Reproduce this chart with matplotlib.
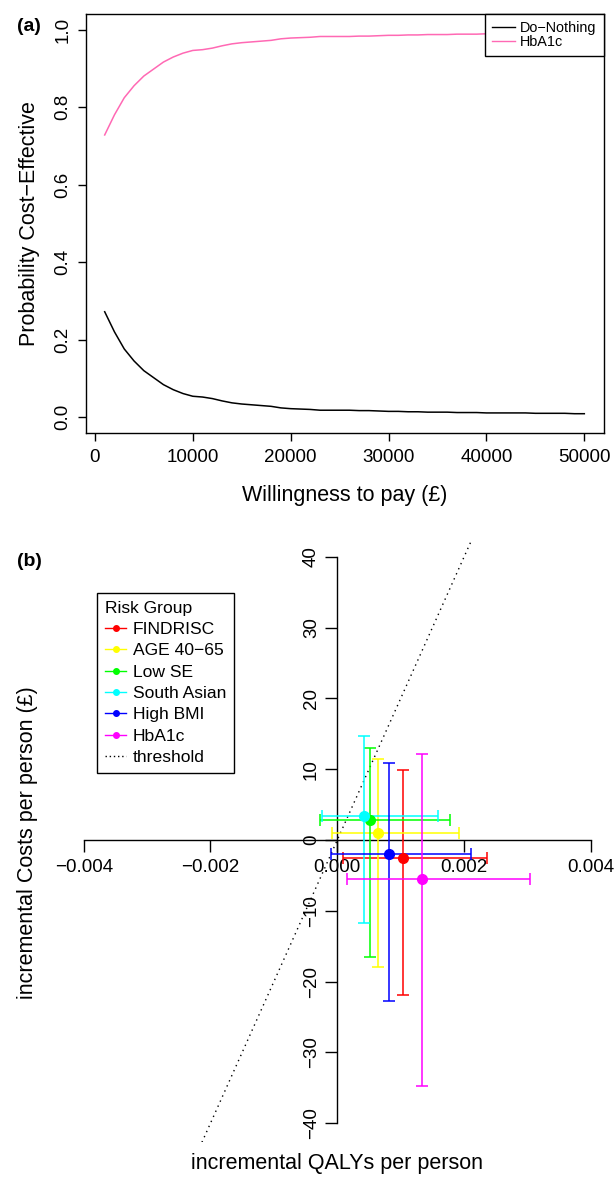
import matplotlib
matplotlib.use('Agg')
import matplotlib.pyplot as plt
from matplotlib.lines import Line2D
import numpy as np

plt.rcParams['font.family'] = ['Liberation Sans', 'DejaVu Sans']

# ---------------- data: panel (a) CEAC ----------------
wtp = [1000, 2000, 3000, 4000, 5000, 6000, 7000, 8000, 9000, 10000,
       11000, 12000, 13000, 14000, 15000, 16000, 17000, 18000, 19000, 20000,
       21000, 22000, 23000, 24000, 25000, 26000, 27000, 28000, 29000, 30000,
       31000, 32000, 33000, 34000, 35000, 36000, 37000, 38000, 39000, 40000,
       41000, 42000, 43000, 44000, 45000, 46000, 47000, 48000, 49000, 50000]
prob_do_nothing = [0.272, 0.220, 0.176, 0.145, 0.120, 0.102, 0.084, 0.071, 0.061, 0.054,
                   0.052, 0.048, 0.042, 0.037, 0.034, 0.032, 0.030, 0.028, 0.024, 0.022,
                   0.021, 0.020, 0.018, 0.018, 0.018, 0.018, 0.017, 0.017, 0.016, 0.015,
                   0.015, 0.014, 0.014, 0.013, 0.013, 0.013, 0.012, 0.012, 0.012, 0.011,
                   0.011, 0.011, 0.011, 0.011, 0.010, 0.010, 0.010, 0.010, 0.009, 0.009]
prob_hba1c = [0.728, 0.780, 0.824, 0.855, 0.880, 0.898, 0.916, 0.929, 0.939, 0.946,
              0.948, 0.952, 0.958, 0.963, 0.966, 0.968, 0.970, 0.972, 0.976, 0.978,
              0.979, 0.980, 0.982, 0.982, 0.982, 0.982, 0.983, 0.983, 0.984, 0.985,
              0.985, 0.986, 0.986, 0.987, 0.987, 0.987, 0.988, 0.988, 0.988, 0.989,
              0.989, 0.989, 0.989, 0.989, 0.990, 0.990, 0.990, 0.990, 0.991, 0.991]
a_xticks = [0, 10000, 20000, 30000, 40000, 50000]
a_xticklabels = ['0', '10000', '20000', '30000', '40000', '50000']
a_yticks = [0.0, 0.2, 0.4, 0.6, 0.8, 1.0]
a_yticklabels = ['0.0', '0.2', '0.4', '0.6', '0.8', '1.0']

# ---------------- data: panel (b) CE plane ----------------
groups = ['FINDRISC', 'AGE 40\u221265', 'Low SE', 'South Asian', 'High BMI', 'HbA1c']
group_colors = ['#FF0000', '#FFFF00', '#00FF00', '#00FFFF', '#0000FF', '#FF00FF']
qaly_mean = [0.001036, 0.000647, 0.000516, 0.000426, 0.000811, 0.001336]
qaly_low = [0.000090, -0.000088, -0.000268, -0.000241, -0.000100, 0.000148]
qaly_high = [0.002366, 0.001915, 0.001778, 0.001593, 0.002109, 0.003044]
cost_mean = [-2.58, 1.03, 2.78, 3.35, -1.98, -5.55]
cost_low = [-21.85, -17.94, -16.48, -11.72, -22.70, -34.75]
cost_high = [9.89, 11.44, 12.95, 14.69, 10.83, 12.15]
threshold_wtp = 20000
b_xticks = [-0.004, -0.002, 0.0, 0.002, 0.004]
b_xticklabels = ['\u22120.004', '\u22120.002', '0.000', '0.002', '0.004']
b_yticks = [-40, -30, -20, -10, 0, 10, 20, 30, 40]
b_yticklabels = ['\u221240', '\u221230', '\u221220', '\u221210', '0', '10', '20', '30', '40']

W, H = 615, 1177
fig = plt.figure(figsize=(W / 100, H / 100), dpi=100)


def fr(x0, y0, x1, y1):
    return [x0 / W, 1 - y1 / H, (x1 - x0) / W, (y1 - y0) / H]


TICK_FS = 13.5
LAB_FS = 15.5

# ---------------- panel (a) ----------------
ax1 = fig.add_axes(fr(85.5, 14.0, 603.5, 432.7))
ax1.plot(wtp, prob_do_nothing, color='black', lw=1.1)
ax1.plot(wtp, prob_hba1c, color='#FF69B4', lw=1.1)
ax1.set_xlim(-960, 51960)
ax1.set_ylim(-0.04, 1.04)
ax1.set_xticks(a_xticks)
ax1.set_xticklabels(a_xticklabels)
ax1.set_yticks(a_yticks)
ax1.set_yticklabels(a_yticklabels, rotation=90, va='center')
ax1.tick_params(direction='out', length=6, width=1, labelsize=TICK_FS, colors='black')
ax1.tick_params(axis='x', pad=6)
ax1.tick_params(axis='y', pad=4)
for s in ax1.spines.values():
    s.set_linewidth(1.0)
ax1.set_xlabel('Willingness to pay (\u00a3)', fontsize=LAB_FS, va='center')
ax1.xaxis.set_label_coords(0.5, (432.7 - 495) / 418.7)
ax1.set_ylabel('Probability Cost\u2212Effective', fontsize=LAB_FS, va='center')
ax1.yaxis.set_label_coords((29.5 - 85.5) / 518.0, 0.5)
h_a = [Line2D([], [], color='black', lw=1.0), Line2D([], [], color='#FF69B4', lw=1.0)]
leg_a = ax1.legend(h_a, ['Do\u2212Nothing', 'HbA1c'], loc='upper right',
                   bbox_to_anchor=(1, 1), borderaxespad=0, fontsize=10.4,
                   handlelength=1.55, handletextpad=0.35, labelspacing=0.0,
                   borderpad=0.5, fancybox=False, framealpha=1, edgecolor='black')
leg_a.get_frame().set_linewidth(1.0)

fig.text(28.5 / W, 1 - 26.7 / H, '(a)', fontsize=14, fontweight='bold',
         ha='center', va='center')

# ---------------- panel (b) ----------------
ax2 = fig.add_axes(fr(63.4, 542.3, 611.2, 1142.3))
ax2.set_xlim(-0.00432, 0.00432)
ax2.set_ylim(-42.7, 42.05)
ax2.axline((0, 0), slope=threshold_wtp, color='black', lw=1.0,
           linestyle=(0, (1, 3)), zorder=1)
for i, g in enumerate(groups):
    q = qaly_mean[i]
    c = cost_mean[i]
    ax2.errorbar([q], [c],
                 xerr=[[q - qaly_low[i]], [qaly_high[i] - q]],
                 yerr=[[c - cost_low[i]], [cost_high[i] - c]],
                 fmt='o', color=group_colors[i], ms=7, elinewidth=1.1,
                 capsize=4, capthick=1.1, zorder=3)
for side in ['top', 'right']:
    ax2.spines[side].set_visible(False)
ax2.spines['left'].set_position(('data', 0))
ax2.spines['bottom'].set_position(('data', 0))
ax2.spines['left'].set_bounds(-40, 40)
ax2.spines['bottom'].set_bounds(-0.004, 0.004)
for s in ['left', 'bottom']:
    ax2.spines[s].set_linewidth(1.0)
    ax2.spines[s].set_zorder(2)
ax2.set_xticks(b_xticks)
ax2.set_xticklabels(b_xticklabels)
ax2.set_yticks(b_yticks)
ax2.set_yticklabels(b_yticklabels, rotation=90, va='center')
ax2.tick_params(direction='out', length=8.5, width=1, labelsize=TICK_FS, colors='black')
ax2.tick_params(axis='x', pad=5)
ax2.tick_params(axis='y', pad=4)
ax2.set_xlabel('incremental QALYs per person', fontsize=LAB_FS, va='center')
ax2.xaxis.set_label_coords(0.5, (1142.3 - 1163) / 600.0)
ax2.set_ylabel('incremental Costs per person (\u00a3)', fontsize=LAB_FS, va='center')
ax2.yaxis.set_label_coords((27.5 - 63.4) / 547.8, 0.5)

h_b = [Line2D([], [], color=col, marker='o', ms=4, lw=1.0) for col in group_colors]
h_b.append(Line2D([], [], color='black', lw=1.0, linestyle=(0, (1, 2))))
leg_b = ax2.legend(h_b, groups + ['threshold'], title='Risk Group', loc='upper left',
                   bbox_to_anchor=(96.7 / W, 1 - 592.7 / H), bbox_transform=fig.transFigure,
                   borderaxespad=0, fontsize=12.6, title_fontsize=12.6,
                   handlelength=1.25, handletextpad=0.35, labelspacing=0.35,
                   borderpad=0.45, fancybox=False, framealpha=1, edgecolor='black',
                   alignment='left')
leg_b.get_frame().set_linewidth(1.0)

fig.text(29.5 / W, 1 - 562 / H, '(b)', fontsize=14, fontweight='bold',
         ha='center', va='center')

fig.savefig('out.png', dpi=100)
